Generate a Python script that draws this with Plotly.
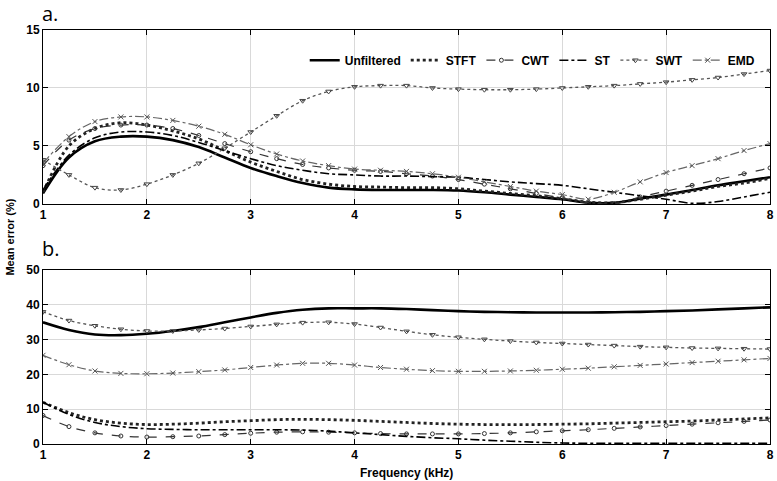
import plotly.graph_objects as go
from plotly.subplots import make_subplots

freq = [1, 1.25, 1.5, 1.75, 2, 2.25, 2.5, 2.75, 3, 3.25, 3.5, 3.75, 4, 4.25, 4.5, 4.75,
        5, 5.25, 5.5, 5.75, 6, 6.25, 6.5, 6.75, 7, 7.25, 7.5, 7.75, 8]

# Panel a
unfiltered_a = [0.9, 4.0, 5.4, 5.8, 5.8, 5.5, 4.9, 4.0, 3.1, 2.4, 1.8, 1.4, 1.25, 1.2, 1.2, 1.2,
                1.15, 1.0, 0.8, 0.6, 0.4, 0.1, 0.1, 0.45, 0.8, 1.2, 1.6, 1.95, 2.3]
stft_a = [1.0, 5.0, 6.5, 7.0, 6.8, 6.3, 5.6, 4.6, 3.6, 2.8, 2.1, 1.7, 1.5, 1.45, 1.4, 1.4,
          1.3, 1.1, 0.9, 0.7, 0.45, 0.15, 0.1, 0.4, 0.75, 1.1, 1.5, 1.8, 2.2]
cwt_a = [3.3, 5.5, 6.5, 6.8, 6.8, 6.5, 5.9, 5.2, 4.5, 3.9, 3.4, 3.1, 2.9, 2.8, 2.6, 2.4,
         2.1, 1.7, 1.3, 0.9, 0.5, 0.1, 0.0, 0.6, 1.1, 1.6, 2.1, 2.6, 3.1]
st_a = [1.2, 4.2, 5.7, 6.2, 6.2, 5.9, 5.3, 4.6, 3.9, 3.3, 2.9, 2.6, 2.5, 2.4, 2.4, 2.35,
        2.3, 2.1, 1.9, 1.75, 1.6, 1.3, 1.0, 0.7, 0.4, 0.05, 0.2, 0.6, 1.0]
swt_a = [3.8, 2.5, 1.4, 1.2, 1.7, 2.5, 3.5, 4.8, 6.2, 7.6, 8.9, 9.7, 10.1, 10.2, 10.2, 10.0,
         9.9, 9.85, 9.85, 9.9, 10.0, 10.1, 10.2, 10.35, 10.5, 10.7, 10.9, 11.2, 11.5]
emd_a = [3.5, 5.8, 7.1, 7.5, 7.5, 7.2, 6.7, 6.0, 5.1, 4.3, 3.7, 3.3, 3.0, 2.9, 2.8, 2.6,
         2.3, 1.9, 1.5, 1.1, 0.8, 0.4, 1.0, 1.9, 2.7, 3.3, 3.9, 4.6, 5.2]

# Panel b
unfiltered_b = [35.0, 32.8, 31.5, 31.3, 31.7, 32.5, 33.6, 35.0, 36.4, 37.7, 38.6, 39.0, 39.0, 39.0,
                38.8, 38.5, 38.2, 38.0, 37.9, 37.8, 37.8, 37.8, 37.9, 38.0, 38.2, 38.4, 38.7, 39.0, 39.3]
stft_b = [12.0, 9.0, 7.0, 6.0, 5.6, 5.7, 6.0, 6.4, 6.7, 7.0, 7.1, 7.0, 6.8, 6.5, 6.2, 5.9,
          5.7, 5.6, 5.6, 5.6, 5.7, 5.8, 6.0, 6.2, 6.4, 6.6, 6.9, 7.2, 7.5]
cwt_b = [8.2, 5.0, 3.2, 2.3, 2.0, 2.1, 2.3, 2.7, 3.1, 3.4, 3.5, 3.4, 3.2, 3.0, 2.9, 2.9,
         2.9, 3.0, 3.2, 3.5, 3.8, 4.1, 4.5, 4.9, 5.3, 5.7, 6.1, 6.5, 6.9]
st_b = [12.0, 8.5, 6.2, 5.0, 4.4, 4.2, 4.1, 4.1, 4.1, 4.1, 4.0, 3.7, 3.2, 2.7, 2.2, 1.8,
        1.5, 1.1, 0.8, 0.5, 0.3, 0.2, 0.2, 0.2, 0.2, 0.2, 0.2, 0.2, 0.2]
swt_b = [38.0, 35.5, 34.0, 33.0, 32.5, 32.5, 32.8, 33.2, 33.8, 34.4, 34.9, 35.0, 34.5, 33.5,
         32.4, 31.4, 30.7, 30.1, 29.6, 29.2, 28.9, 28.6, 28.3, 28.0, 27.8, 27.6, 27.5, 27.4, 27.3]
emd_b = [25.5, 22.8, 21.0, 20.3, 20.2, 20.4, 20.8, 21.3, 22.0, 22.7, 23.2, 23.2, 22.7, 22.0,
         21.5, 21.1, 20.9, 20.9, 21.0, 21.2, 21.5, 21.8, 22.2, 22.6, 23.0, 23.4, 23.8, 24.2, 24.6]

x_ticks = [1, 2, 3, 4, 5, 6, 7, 8]
ya_ticks = [0, 5, 10, 15]
yb_ticks = [0, 10, 20, 30, 40, 50]

series = [
    ("Unfiltered", unfiltered_a, unfiltered_b, dict(color="black", width=2.6, dash="solid"), None),
    ("STFT", stft_a, stft_b, dict(color="#222", width=2.8, dash="dot"), None),
    ("CWT", cwt_a, cwt_b, dict(color="#333", width=1.2, dash="dash"),
     dict(symbol="circle-open", size=4, color="#333", line=dict(width=1))),
    ("ST", st_a, st_b, dict(color="black", width=1.6, dash="dashdot"), None),
    ("SWT", swt_a, swt_b, dict(color="#555", width=1.3, dash="dot"),
     dict(symbol="triangle-down-open", size=5, color="#444", line=dict(width=1))),
    ("EMD", emd_a, emd_b, dict(color="#666", width=1.2, dash="dashdot"),
     dict(symbol="x-thin-open", size=5, color="#555", line=dict(width=1))),
]

fig = make_subplots(rows=2, cols=1, shared_xaxes=False, vertical_spacing=0.16)

for name, ya, yb, line, marker in series:
    mode = "lines+markers" if marker else "lines"
    kw = dict(marker=marker) if marker else {}
    fig.add_trace(go.Scatter(x=freq, y=ya, name=name, mode=mode, line=dict(shape="spline", **line),
                             legendgroup=name, showlegend=True, **kw), row=1, col=1)
    fig.add_trace(go.Scatter(x=freq, y=yb, name=name, mode=mode, line=dict(shape="spline", **line),
                             legendgroup=name, showlegend=False, **kw), row=2, col=1)

axis_common = dict(showline=True, linecolor="black", linewidth=1, mirror="ticks",
                   ticks="inside", ticklen=5, tickcolor="black", automargin=False,
                   showgrid=True, gridcolor="#d9d9d9", gridwidth=1, zeroline=False,
                   tickfont=dict(family="Liberation Sans", size=12, color="black", weight="bold"))

fig.update_xaxes(range=[1, 8], tickvals=x_ticks, **axis_common)
fig.update_yaxes(**axis_common)
fig.update_yaxes(range=[0, 15], tickvals=ya_ticks, domain=[0.58, 1.0], row=1, col=1)
fig.update_yaxes(range=[0, 50], tickvals=yb_ticks, domain=[0.0, 0.42], row=2, col=1)

fig.update_layout(
    width=777, height=481,
    margin=dict(l=43, r=7, t=30, b=37, autoexpand=False),
    plot_bgcolor="white", paper_bgcolor="white",
    font=dict(family="Liberation Sans", color="black"),
    legend=dict(orientation="h", x=0.36, y=0.927, xanchor="left", yanchor="middle",
                bgcolor="rgba(255,255,255,0)", borderwidth=0,
                font=dict(family="Liberation Sans", size=12, color="black", weight="bold"),
                itemwidth=30, tracegroupgap=0),
    annotations=[
        dict(text="a.", x=-0.004, y=1.04, xref="paper", yref="paper", showarrow=False,
             xanchor="left", yanchor="middle", font=dict(family="Open Sans", size=20, color="black")),
        dict(text="b.", x=-0.004, y=0.473, xref="paper", yref="paper", showarrow=False,
             xanchor="left", yanchor="middle", font=dict(family="Open Sans", size=20, color="black")),
        dict(text="Mean error (%)", x=-0.046, y=0.5, xref="paper", yref="paper", showarrow=False,
             textangle=-90, xanchor="center", yanchor="middle",
             font=dict(family="Liberation Sans", size=11, color="black", weight="bold")),
        dict(text="Frequency (kHz)", x=0.5, y=-0.07, xref="paper", yref="paper", showarrow=False,
             xanchor="center", yanchor="middle",
             font=dict(family="Liberation Sans", size=12, color="black", weight="bold")),
    ],
)

fig.write_html("out.html", config={"displayModeBar": False},
               post_script="document.body.style.margin='0';")
